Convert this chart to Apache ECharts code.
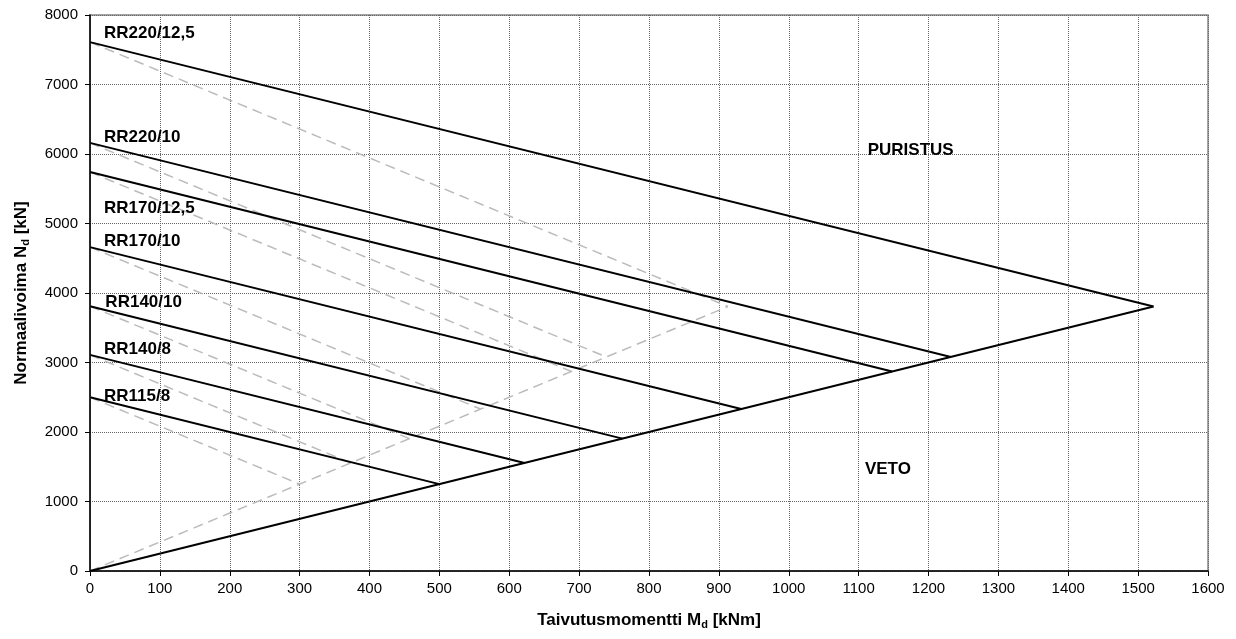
<!DOCTYPE html>
<html>
<head>
<meta charset="utf-8">
<script src="https://cdn.jsdelivr.net/npm/echarts@6/dist/echarts.min.js"></script>
<style>
  html, body { margin: 0; padding: 0; background: #fff; }
  #chart { width: 1236px; height: 639px; }
</style>
</head>
<body>
<div id="chart"></div>
<script>
// Profile names (RR tube piles) and their interaction line end points
const profileNames = ['RR220/12,5', 'RR220/10', 'RR170/12,5', 'RR170/10', 'RR140/10', 'RR140/8', 'RR115/8'];
// Axial capacity at zero moment [kN]
const axialAtZero = [7610, 6160, 5740, 4660, 3810, 3110, 2500];
// End point of the solid design line on the tension boundary
const solidEndMoment = [1522, 1232, 1148, 932, 762, 622, 500];
const endAxial = [3805, 3080, 2870, 2330, 1905, 1555, 1250];
// End point of the dashed line on the dashed boundary
const dashedEndMoment = [913, 739, 689, 559, 457, 373, 300];
// Boundary lines from the origin
const solidBoundary = [[0, 0], [1522, 3805]];
const dashedBoundary = [[0, 0], [913, 3805]];
// Label anchors
const labelMoment = [20, 20, 20, 20, 22, 20, 20];
const labelAxial = [7740, 6240, 5220, 4740, 3870, 3190, 2520];
const regionLabels = [
  { text: 'PURISTUS', m: 1113, n: 6060 },
  { text: 'VETO', m: 1109, n: 1470 }
];
const xTicks = { min: 0, max: 1600, step: 100 };
const yTicks = { min: 0, max: 8000, step: 1000 };

const FONT = '"Liberation Sans", Arial, sans-serif';
const DASHED = { color: '#bbbbbb', width: 1.5, type: [10, 6] };
const SOLID = { color: '#000', width: 2 };
const series = [];

// Dashed grey lines first so the solid lines sit above them
profileNames.forEach((name, i) => {
  series.push({
    type: 'line',
    name: name + ' (katkoviiva)',
    data: [[0, axialAtZero[i]], [dashedEndMoment[i], endAxial[i]]],
    symbol: 'none',
    silent: true,
    lineStyle: DASHED,
    z: 2
  });
});
series.push({
  type: 'line',
  data: dashedBoundary,
  symbol: 'none',
  silent: true,
  lineStyle: DASHED,
  z: 2
});

profileNames.forEach((name, i) => {
  series.push({
    type: 'line',
    name: name,
    data: [[0, axialAtZero[i]], [solidEndMoment[i], endAxial[i]]],
    symbol: 'none',
    silent: true,
    lineStyle: SOLID,
    z: 3
  });
});
series.push({
  type: 'line',
  data: solidBoundary,
  symbol: 'none',
  silent: true,
  lineStyle: SOLID,
  z: 3
});

const labelStyle = {
  show: true,
  position: 'right',
  distance: 0,
  formatter: p => p.data[2],
  color: '#000',
  opacity: 1,
  textBorderWidth: 0,
  fontFamily: FONT,
  fontWeight: 'bold',
  fontSize: 17
};

series.push({
  type: 'scatter',
  symbolSize: 0,
  silent: true,
  itemStyle: { color: '#000', opacity: 1 },
  data: profileNames.map((n, i) => [labelMoment[i], labelAxial[i], n]),
  label: labelStyle,
  z: 5
});
series.push({
  type: 'scatter',
  symbolSize: 0,
  silent: true,
  itemStyle: { color: '#000', opacity: 1 },
  data: regionLabels.map(r => [r.m, r.n, r.text]),
  label: labelStyle,
  z: 5
});

const titleRich = {
  a: { fontFamily: FONT, fontWeight: 'bold', fontSize: 17, color: '#000', lineHeight: 19 },
  s: { fontFamily: FONT, fontWeight: 'bold', fontSize: 11, color: '#000', lineHeight: 10, verticalAlign: 'bottom' }
};

const chart = echarts.init(document.getElementById('chart'), null, { renderer: 'canvas' });
chart.setOption({
  animation: false,
  backgroundColor: '#fff',
  grid: {
    left: 90, right: 28, top: 15, bottom: 68,
    show: true, borderColor: '#888', borderWidth: 1.5, backgroundColor: 'transparent'
  },
  xAxis: {
    type: 'value',
    min: xTicks.min, max: xTicks.max, interval: xTicks.step,
    name: '{a|Taivutusmomentti M}{s|d}{a| [kNm]}',
    nameLocation: 'middle',
    nameGap: 40,
    nameTextStyle: { rich: titleRich },
    axisLine: { show: true, lineStyle: { color: '#000', width: 1.5 } },
    axisTick: { show: true, length: 5, lineStyle: { color: '#000', width: 1 } },
    axisLabel: { margin: 10, color: '#000', fontFamily: FONT, fontSize: 15, formatter: v => String(v) },
    splitLine: { show: true, lineStyle: { color: '#666', width: 1, type: [1, 1] } }
  },
  yAxis: {
    type: 'value',
    min: yTicks.min, max: yTicks.max, interval: yTicks.step,
    name: '{a|Normaalivoima N}{s|d}{a| [kN]}',
    nameLocation: 'middle',
    nameRotate: 90,
    nameGap: 59,
    nameTextStyle: { rich: titleRich },
    axisLine: { show: true, lineStyle: { color: '#000', width: 1.5 } },
    axisTick: { show: true, length: 5, lineStyle: { color: '#000', width: 1 } },
    axisLabel: { margin: 12, color: '#000', fontFamily: FONT, fontSize: 15, formatter: v => String(v) },
    splitLine: { show: true, lineStyle: { color: '#666', width: 1, type: [1, 1] } }
  },
  series: series
});
</script>
</body>
</html>
